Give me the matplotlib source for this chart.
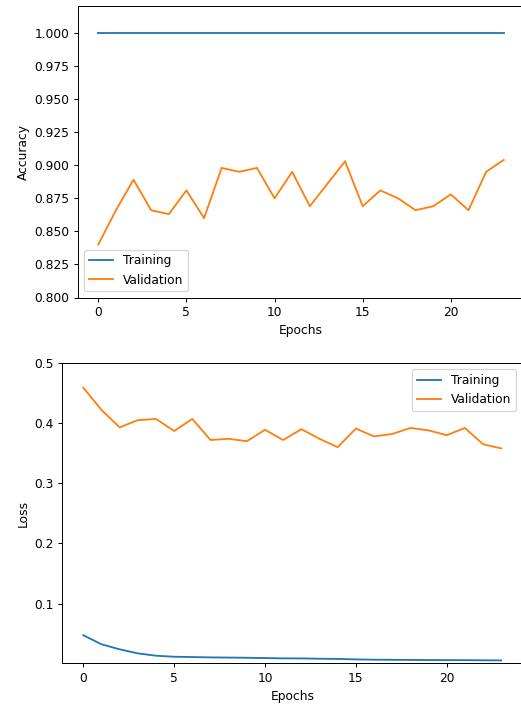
import numpy as np
import matplotlib
matplotlib.use("Agg")
import matplotlib.pyplot as plt

# training history, one value per epoch
epochs = np.arange(24)

train_acc = [1.0] * 24
val_acc = [0.840, 0.866, 0.889, 0.866, 0.863, 0.881, 0.860, 0.898,
           0.895, 0.898, 0.875, 0.895, 0.869, 0.886, 0.903, 0.869,
           0.881, 0.875, 0.866, 0.869, 0.878, 0.866, 0.895, 0.904]

train_loss = [0.0475, 0.0324, 0.0240, 0.0173, 0.0134, 0.0117, 0.0112, 0.0106,
              0.0103, 0.0100, 0.0095, 0.0090, 0.0089, 0.0084, 0.0081, 0.0073,
              0.0068, 0.0066, 0.0064, 0.0062, 0.0061, 0.0060, 0.0058, 0.0056]
val_loss = [0.459, 0.422, 0.393, 0.405, 0.407, 0.387, 0.407, 0.372,
            0.374, 0.370, 0.389, 0.372, 0.390, 0.374, 0.360, 0.391,
            0.378, 0.382, 0.392, 0.388, 0.380, 0.392, 0.365, 0.358]

W, H = 521, 709
DPI = 88
fig = plt.figure(figsize=(W / DPI, H / DPI), dpi=DPI)

# accuracy panel (right edge runs off the canvas)
ax1 = fig.add_axes([78.0 / W, 1 - 297.5 / H, 446.0 / W, 291.5 / H])
ax1.plot(epochs, train_acc, label="Training")
ax1.plot(epochs, val_acc, label="Validation")
ax1.set_ylim(0.8, 1.0204)
ax1.set_xlabel("Epochs")
ax1.set_ylabel("Accuracy")
ax1.legend(loc="lower left")
ax1.spines["right"].set_visible(False)

# loss panel
ax2 = fig.add_axes([62.4 / W, 1 - 663.3 / H, 459.7 / W, 300.3 / H])
ax2.plot(epochs, train_loss, label="Training")
ax2.plot(epochs, val_loss, label="Validation")
ax2.set_ylim(0.0008, 0.5)
ax2.set_xlabel("Epochs")
ax2.set_ylabel("Loss")
ax2.legend(loc="upper right")
ax2.spines["right"].set_visible(False)

fig.savefig("out.png", dpi=DPI)
